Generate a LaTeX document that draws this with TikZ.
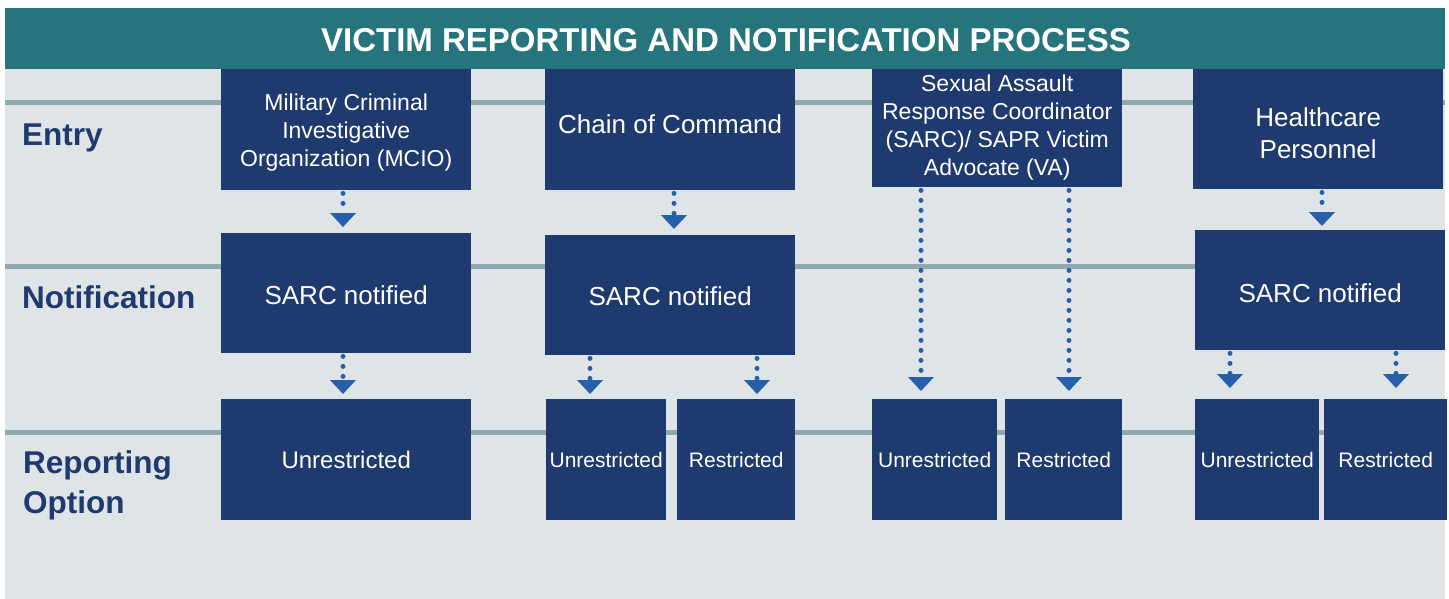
\documentclass[tikz,border=0pt]{standalone}
\usepackage{fontspec}
\setmainfont{Liberation Sans}
\usetikzlibrary{arrows.meta,calc}
\definecolor{tealband}{HTML}{26747C}
\definecolor{bgpanel}{HTML}{DFE4E7}
\definecolor{navybox}{HTML}{1F3A6F}
\definecolor{rulegray}{HTML}{8FA9B3}
\definecolor{arrowblue}{HTML}{2760A9}
\begin{document}
\begin{tikzpicture}[x=1pt,y=-1pt,
 box/.style={fill=navybox, inner sep=0pt, anchor=north west},
 boxtext/.style={text=white, inner sep=0pt, align=center},
 fbig/.style={font=\fontsize{26}{32}\selectfont},
 fmid/.style={font=\fontsize{23}{28}\selectfont},
 fsmall/.style={font=\fontsize{21}{25}\selectfont},
 rowrule/.style={draw=rulegray, line width=5pt},
 arr/.style={draw=arrowblue, line width=5pt, line cap=round, dash pattern=on 0pt off 10pt,
   -{Triangle[width=26pt,length=14pt,line width=0pt,round=false]}, shorten <=3pt, shorten >=6pt},
 lab/.style={text=navybox, font=\fontsize{31.5}{38}\selectfont\bfseries, anchor=base west, inner sep=0pt}]
\useasboundingbox (0,0) rectangle (1449,599);
% panel and title
\fill[bgpanel] (5,68) rectangle (1445,599);
\node[fill=tealband, minimum width=1440pt, minimum height=61pt, inner sep=0pt, anchor=north west] (title) at (5,8) {};
\node[text=white, font=\fontsize{33}{38}\selectfont\bfseries] (titletext) at (726,40) {VICTIM REPORTING AND NOTIFICATION PROCESS};
% row rules
\draw[rowrule] (5,102.5) -- (1445,102.5);
\draw[rowrule] (5,266) -- (1445,266);
\draw[rowrule] (5,432) -- (1445,432);
% row labels
\node[lab] (lentry) at (22,146) {Entry};
\node[lab] (lnotif) at (22,308) {Notification};
\node[lab] (lrep) at (23,473) {Reporting};
\node[lab] (lopt) at (23,513) {Option};
% entry row
\node[box, minimum width=250pt, minimum height=121pt] (mcio) at (221,69) {};
\node[boxtext, fmid] (mciot) at ([yshift=-3pt]mcio.center) {Military Criminal\\Investigative\\Organization (MCIO)};
\node[box, minimum width=250pt, minimum height=121pt] (coc) at (545,69) {};
\node[boxtext, fbig] (coct) at ([yshift=5pt]coc.center) {Chain of Command};
\node[box, minimum width=250pt, minimum height=118pt] (sarcva) at (872,69) {};
\node[boxtext, fmid] (sarcvat) at ([yshift=1pt]sarcva.center) {Sexual Assault\\Response Coordinator\\(SARC)/ SAPR Victim\\Advocate (VA)};
\node[box, minimum width=250pt, minimum height=120pt] (hc) at (1193,69) {};
\node[boxtext, fbig] (hct) at ([yshift=-4pt]hc.center) {Healthcare\\Personnel};
% notification row
\node[box, minimum width=250pt, minimum height=120pt] (n1) at (221,233) {};
\node[boxtext, fbig] (n1t) at ([yshift=-2pt]n1.center) {SARC notified};
\node[box, minimum width=250pt, minimum height=120pt] (n2) at (545,235) {};
\node[boxtext, fbig] (n2t) at ([yshift=-1pt]n2.center) {SARC notified};
\node[box, minimum width=250pt, minimum height=120pt] (n3) at (1195,230) {};
\node[boxtext, fbig] (n3t) at ([yshift=-3pt]n3.center) {SARC notified};
% reporting row
\node[box, minimum width=250pt, minimum height=121pt] (r1) at (221,399) {};
\node[boxtext, font=\fontsize{24}{28}\selectfont] (r1t) at (r1.center) {Unrestricted};
\node[box, minimum width=120pt, minimum height=121pt] (u2) at (546,399) {};
\node[boxtext, fsmall] (u2t) at (u2.center) {Unrestricted};
\node[box, minimum width=118pt, minimum height=121pt] (s2) at (677,399) {};
\node[boxtext, fsmall] (s2t) at (s2.center) {Restricted};
\node[box, minimum width=125pt, minimum height=121pt] (u3) at (872,399) {};
\node[boxtext, fsmall] (u3t) at (u3.center) {Unrestricted};
\node[box, minimum width=117pt, minimum height=121pt] (s3) at (1005,399) {};
\node[boxtext, fsmall] (s3t) at (s3.center) {Restricted};
\node[box, minimum width=124pt, minimum height=121pt] (u4) at (1195,399) {};
\node[boxtext, fsmall] (u4t) at (u4.center) {Unrestricted};
\node[box, minimum width=123pt, minimum height=121pt] (s4) at (1324,399) {};
\node[boxtext, fsmall] (s4t) at (s4.center) {Restricted};
% connectors
\draw[arr] ([xshift=122pt]mcio.south west) -- ([xshift=122pt]mcio.south west |- n1.north);
\draw[arr] ([xshift=129pt]coc.south west) -- ([xshift=129pt]coc.south west |- n2.north);
\draw[arr, shorten >=4pt] ([xshift=129pt]hc.south west) -- ([xshift=129pt]hc.south west |- n3.north);
\draw[arr, shorten >=5pt] ([xshift=122pt]n1.south west) -- ([xshift=122pt]n1.south west |- r1.north);
\draw[arr, shorten >=5pt] ([xshift=45pt]n2.south west) -- ([xshift=45pt]n2.south west |- u2.north);
\draw[arr, shorten >=5pt] ([xshift=212pt]n2.south west) -- ([xshift=212pt]n2.south west |- s2.north);
\draw[arr, shorten >=8pt] ([xshift=49pt]sarcva.south west) -- ([xshift=49pt]sarcva.south west |- u3.north);
\draw[arr, shorten >=8pt] ([xshift=197pt]sarcva.south west) -- ([xshift=197pt]sarcva.south west |- s3.north);
\draw[arr, shorten >=11pt] ([xshift=35pt]n3.south west) -- ([xshift=35pt]n3.south west |- u4.north);
\draw[arr, shorten >=11pt] ([xshift=201pt]n3.south west) -- ([xshift=201pt]n3.south west |- s4.north);
\end{tikzpicture}
\end{document}
